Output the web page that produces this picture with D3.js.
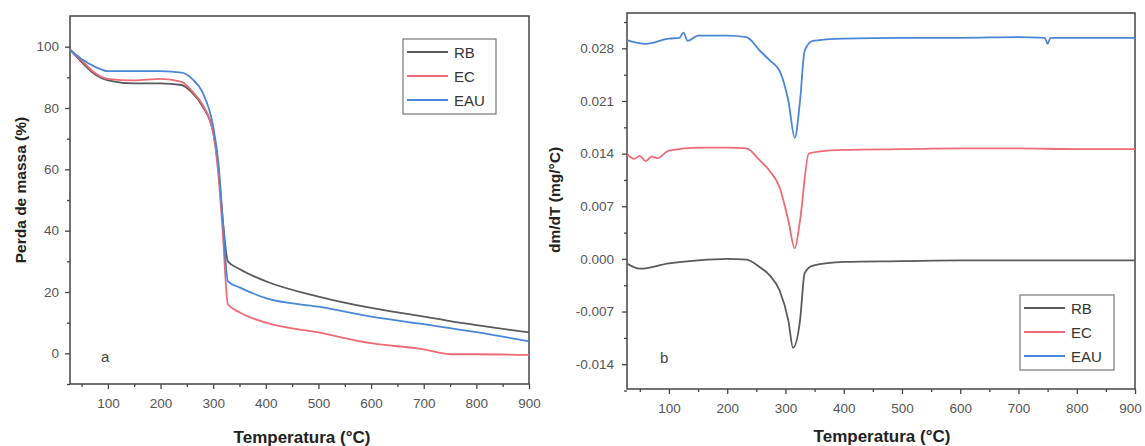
<!DOCTYPE html>
<html>
<head>
<meta charset="utf-8">
<script src="https://cdn.jsdelivr.net/npm/d3@7"></script>
<style>
  body { margin: 0; background: #fff; }
  svg { font-family: "Liberation Sans", Arial, sans-serif; }
  .tick text { fill: #555; font-size: 13.5px; }
  .axis path, .axis line { stroke: #444; }
  .axis-title { font-weight: bold; fill: #222; }
</style>
</head>
<body>
<div id="chart"></div>
<script>
// ---- data ----
const seriesNames = ["RB", "EC", "EAU"]
const seriesColors = ["#5a5a5a", "#ee6a74", "#4a86d8"]

// panel a: TGA, mass (%) vs temperature
const tgaTemp = [28, 50, 75, 100, 150, 200, 240, 260, 280, 300, 310, 318, 328, 350, 400, 500, 600, 700, 750, 800, 900]
const tgaRB   = [99, 95, 91, 89, 88, 88, 87.5, 85, 80.5, 72, 60, 44, 30, 27.5, 23.5, 18.5, 14.8, 12, 10.5, 9.2, 6.8]
const tgaEC   = [99, 95.5, 91.5, 89.5, 89, 89.5, 88.5, 85.5, 81, 72, 58, 40, 16, 13.4, 10, 6.8, 3.3, 1.3, -0.3, -0.3, -0.5]
const tgaEAU  = [99, 96, 93.5, 92, 92, 92, 91.5, 89.5, 85, 74, 62, 44, 23.5, 21.5, 18, 15.2, 12, 9.5, 8.2, 6.9, 3.9]

// panel b: DTG, dm/dT vs temperature
const dtgTempRB = [28, 50, 100, 150, 200, 233, 256, 273, 290, 305, 313, 325, 333, 347, 400, 500, 600, 700, 800, 900]
const dtgRB     = [-0.0006, -0.0013, -0.0006, -0.0002, 0.0000, -0.0001, -0.0011, -0.0022, -0.0042, -0.0082, -0.0118, -0.0082, -0.0019, -0.0009, -0.0004, -0.0003, -0.0002, -0.0002, -0.0002, -0.0002]
const dtgTempEC = [28, 40, 50, 60, 70, 80, 100, 150, 200, 233, 256, 273, 290, 305, 316, 325, 340, 360, 400, 500, 600, 700, 800, 900]
const dtgEC     = [0.0140, 0.0133, 0.0137, 0.0130, 0.0136, 0.0134, 0.0144, 0.0148, 0.0148, 0.0147, 0.0131, 0.0117, 0.0095, 0.0051, 0.0014, 0.0051, 0.0140, 0.0143, 0.0145, 0.0146, 0.0147, 0.0147, 0.0146, 0.0146]
const dtgTempEAU = [28, 60, 100, 118, 125, 132, 150, 200, 233, 256, 273, 290, 305, 316, 325, 333, 347, 400, 500, 600, 700, 745, 750, 755, 800, 900]
const dtgEAU     = [0.0291, 0.0286, 0.0293, 0.0294, 0.0301, 0.0290, 0.0297, 0.0297, 0.0295, 0.0277, 0.0264, 0.0250, 0.0210, 0.0161, 0.0210, 0.0277, 0.0290, 0.0293, 0.0294, 0.0294, 0.0295, 0.0294, 0.0286, 0.0294, 0.0294, 0.0294]

const xTicks = [100, 200, 300, 400, 500, 600, 700, 800, 900]
const tgaTicks = [0, 20, 40, 60, 80, 100]
const dtgTicks = [-0.014, -0.007, 0, 0.007, 0.014, 0.021, 0.028]

const svg = d3.select("#chart").append("svg")
    .attr("width", 1145)
    .attr("height", 446)

function panel(opts) {
    const { box, xDomain, yDomain, yTicks, yMinor, yFormat, lines, yTitle, yTitleX, xTitleY, letter, legendPos } = opts
    const x = d3.scaleLinear().domain(xDomain).range([box.left, box.right])
    const y = d3.scaleLinear().domain(yDomain).range([box.bottom, box.top])
    const g = svg.append("g")

    // frame
    g.append("rect")
        .attr("x", box.left).attr("y", box.top)
        .attr("width", box.right - box.left).attr("height", box.bottom - box.top)
        .attr("fill", "none").attr("stroke", "#444").attr("stroke-width", 1.5)

    // minor ticks
    const xMinor = d3.range(50, 900, 100)
    g.append("g").attr("class", "axis")
        .attr("transform", `translate(0,${box.bottom})`)
        .call(d3.axisBottom(x).tickValues(xMinor).tickSize(3).tickFormat(""))
        .call(a => a.select(".domain").remove())
    g.append("g").attr("class", "axis")
        .attr("transform", `translate(${box.left},0)`)
        .call(d3.axisLeft(y).tickValues(yMinor).tickSize(3).tickFormat(""))
        .call(a => a.select(".domain").remove())

    // major ticks
    const xAxis = g.append("g").attr("class", "axis")
        .attr("transform", `translate(0,${box.bottom})`)
        .call(d3.axisBottom(x).tickValues(xTicks).tickSize(5).tickPadding(9))
        .call(a => a.select(".domain").remove())
    if (opts.lastShift) {
        xAxis.selectAll(".tick text").filter(d => d === 900).attr("dx", opts.lastShift)
    }
    g.append("g").attr("class", "axis")
        .attr("transform", `translate(${box.left},0)`)
        .call(d3.axisLeft(y).tickValues(yTicks).tickSize(5).tickPadding(opts.yPad).tickFormat(yFormat))
        .call(a => a.select(".domain").remove())
    g.selectAll(".axis line").attr("stroke-width", 1.3)

    // curves
    const line = d3.line()
        .x(d => x(d[0]))
        .y(d => y(d[1]))
        .curve(d3.curveMonotoneX)
    lines.forEach((s, i) => {
        g.append("path")
            .datum(d3.zip(s.t, s.v))
            .attr("fill", "none")
            .attr("stroke", seriesColors[i])
            .attr("stroke-width", 1.8)
            .attr("d", line)
    })

    // titles
    g.append("text")
        .attr("class", "axis-title")
        .attr("x", opts.xTitleX)
        .attr("y", xTitleY)
        .attr("text-anchor", "middle")
        .style("font-size", "17px")
        .text("Temperatura (°C)")
    g.append("text")
        .attr("class", "axis-title")
        .attr("transform", `translate(${yTitleX},${opts.yTitleY}) rotate(-90)`)
        .attr("text-anchor", "middle")
        .style("font-size", "15.5px")
        .text(yTitle)

    g.append("text")
        .attr("x", letter[0]).attr("y", letter[1])
        .style("font-size", "15px").attr("fill", "#444")
        .text(opts.letterText)

    // legend
    const lg = g.append("g").attr("transform", `translate(${legendPos[0]},${legendPos[1]})`)
    lg.append("rect")
        .attr("width", legendPos[2]).attr("height", 75)
        .attr("fill", "#fff").attr("stroke", "#777").attr("stroke-width", 1.2)
    seriesNames.forEach((name, i) => {
        const row = lg.append("g").attr("transform", `translate(0,${13 + i * 24})`)
        row.append("line")
            .attr("x1", 4).attr("x2", 45)
            .attr("stroke", seriesColors[i]).attr("stroke-width", 1.8)
        row.append("text")
            .attr("x", 51).attr("y", 5.5)
            .style("font-size", "15px").attr("fill", "#333")
            .text(name)
    })
}

panel({
    box: { left: 70, right: 529, top: 16, bottom: 384 },
    xDomain: [28, 900],
    yDomain: [-10, 110],
    yTicks: tgaTicks,
    yMinor: d3.range(-10, 110, 20),
    yFormat: d3.format("d"),
    yPad: 6,
    lines: [{ t: tgaTemp, v: tgaRB }, { t: tgaTemp, v: tgaEC }, { t: tgaTemp, v: tgaEAU }],
    yTitle: "Perda de massa (%)",
    yTitleX: 26,
    yTitleY: 190,
    xTitleX: 302,
    xTitleY: 443,
    letter: [101, 362],
    letterText: "a",
    legendPos: [403, 39, 93]
})

panel({
    box: { left: 627, right: 1135, top: 13, bottom: 389 },
    xDomain: [28, 900],
    yDomain: [-0.0173, 0.0327],
    yTicks: dtgTicks,
    yMinor: d3.range(-0.0175, 0.032, 0.007),
    yFormat: d => d3.format(".3f")(d).replace("−", "-"),
    yPad: 8,
    lines: [{ t: dtgTempRB, v: dtgRB }, { t: dtgTempEC, v: dtgEC }, { t: dtgTempEAU, v: dtgEAU }],
    yTitle: "dm/dT (mg/°C)",
    yTitleX: 560,
    yTitleY: 200,
    xTitleX: 882,
    xTitleY: 442,
    lastShift: -5,
    letter: [660, 363],
    letterText: "b",
    legendPos: [1020, 295, 94]
})
</script>
</body>
</html>
